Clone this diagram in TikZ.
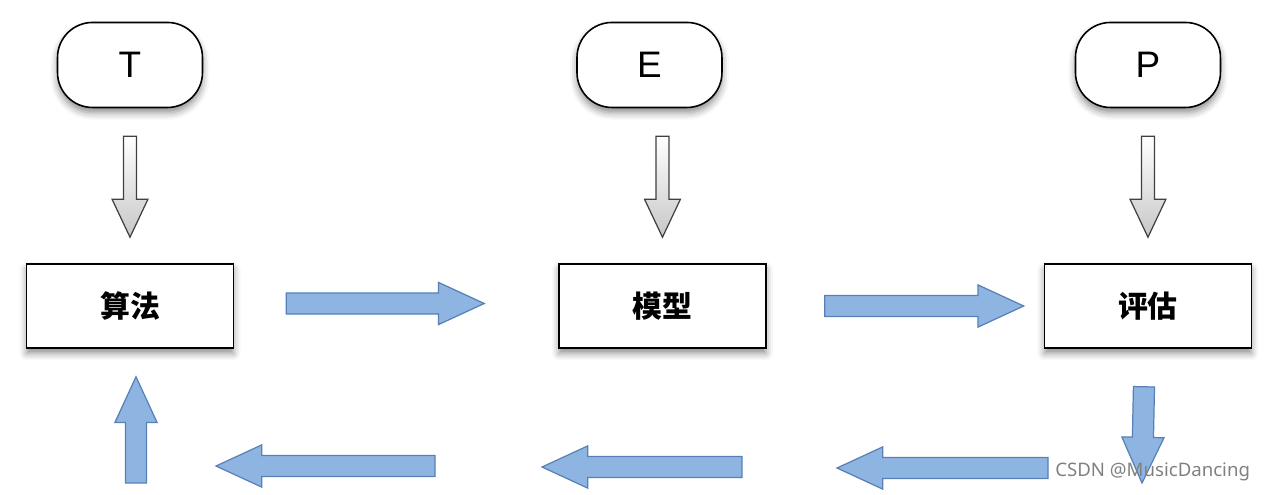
\documentclass[tikz,border=0pt]{standalone}
\usepackage{fontspec}
\setmainfont{Liberation Sans}
\newfontfamily\cjk{Noto Sans CJK SC}
\newfontfamily\marksans{Noto Sans}
\usepackage{tikz}
\usetikzlibrary{positioning, calc, shadows.blur}

\definecolor{blockfill}{RGB}{142,181,226}
\definecolor{blockline}{RGB}{88,128,182}
\definecolor{markgray}{RGB}{128,128,128}

\tikzset{
  block/.style args={#1/#2/#3}{to path={
    let \p1=(\tikztostart), \p2=(\tikztotarget),
        \n1={veclen(\x2-\x1,\y2-\y1)},
        \n2={(\x2-\x1)/\n1}, \n3={(\y2-\y1)/\n1}
    in ({\x1-#1*(\n3)},{\y1+#1*(\n2)})
    -- ({\x2-#3*(\n2)-#1*(\n3)},{\y2-#3*(\n3)+#1*(\n2)})
    -- ({\x2-#3*(\n2)-#2*(\n3)},{\y2-#3*(\n3)+#2*(\n2)})
    -- (\p2)
    -- ({\x2-#3*(\n2)+#2*(\n3)},{\y2-#3*(\n3)-#2*(\n2)})
    -- ({\x2-#3*(\n2)+#1*(\n3)},{\y2-#3*(\n3)-#1*(\n2)})
    -- ({\x1+#1*(\n3)},{\y1-#1*(\n2)}) -- cycle}}
}

\begin{document}
\begin{tikzpicture}[
    x=0.02cm, y=-0.02cm,
    term/.style={rectangle, draw, line width=0.9pt, rounded corners=0.7cm,
                 minimum width=2.9cm, minimum height=1.7cm, fill=white,
                 font=\fontsize{21}{24}\selectfont,
                 blur shadow={shadow xshift=0pt, shadow yshift=-3pt,
                              shadow blur radius=4pt, shadow opacity=45}},
    box/.style={rectangle, draw, line width=0.9pt,
                minimum width=4.14cm, minimum height=1.68cm, fill=white,
                font=\cjk\bfseries\fontsize{17}{20}\selectfont,
                blur shadow={shadow xshift=0pt, shadow yshift=-3pt,
                             shadow blur radius=4pt, shadow opacity=45}},
    hollow/.style={block=3.7/10.2/21.6, draw=black!75, line width=0.7pt,
                   top color=white, bottom color=black!22},
    flow/.style={block=6/12/26, draw=blockline, line width=0.7pt, fill=blockfill}
]
  \useasboundingbox (0,0) rectangle (1268,494);

  \node[box] (algo) at (130,306) {算法};
  \node[box, right=6.48cm of algo] (model) {模型};
  \node[box, right=5.54cm of model] (eval) {评估};
  \node[term, above=3.1cm of algo] (T) {T};
  \node[term, above=3.1cm of model, xshift=-0.26cm] (E) {E};
  \node[term, above=3.1cm of eval] (P) {P};

  \draw[hollow] ([yshift=-0.56cm]T.south) to ([yshift=0.52cm]algo.north);
  \draw[hollow] ([yshift=-0.56cm, xshift=0.26cm]E.south) to ([yshift=0.52cm]model.north);
  \draw[hollow] ([yshift=-0.56cm]P.south) to ([yshift=0.52cm]eval.north);

  \coordinate (turn) at (1142,483);
  \coordinate (b1) at (1048,468); \coordinate (b2) at (837,468);
  \coordinate (b3) at (742,467);  \coordinate (b4) at (542,467);
  \coordinate (b5) at (435,466);  \coordinate (b6) at (216,466);
  \coordinate (rise) at (136,483);

  \draw[flow] ([xshift=1.04cm, yshift=0.05cm]algo.east) to ([xshift=-1.48cm, yshift=0.05cm]model.west);
  \draw[flow] ([xshift=1.16cm]model.east) to ([xshift=-0.4cm]eval.west);
  \draw[flow] ([yshift=-0.76cm, xshift=-0.08cm]eval.south) to (turn);
  \draw[flow] (b1) to (b2);
  \draw[flow] (b3) to (b4);
  \draw[flow] (b5) to (b6);
  \draw[flow] (rise) to ([yshift=-0.56cm, xshift=0.12cm]algo.south);

  \node[anchor=west, inner sep=0pt, text=markgray, font=\marksans\fontsize{10.6}{13}\selectfont] (mark) at (1055,472) {CSDN @MusicDancing};
\end{tikzpicture}
\end{document}
